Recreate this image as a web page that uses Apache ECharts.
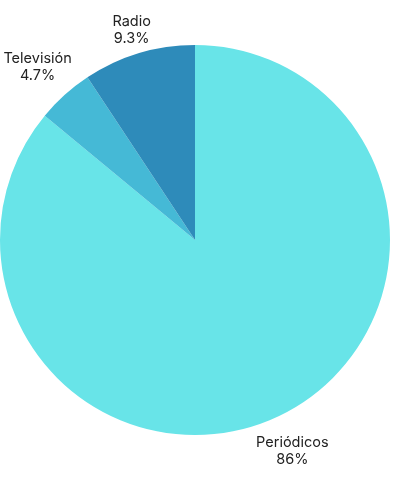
<!DOCTYPE html>
<html>
<head>
<meta charset="utf-8">
<script src="https://cdn.jsdelivr.net/npm/echarts@6/dist/echarts.min.js"></script>
<style>
html,body{margin:0;padding:0;background:#fff;}
#main{width:420px;height:478px;}
</style>
</head>
<body>
<div id="main"></div>
<script>
const categories = ['Periódicos', 'Televisión', 'Radio'];
const values = [86, 4.7, 9.3];
const colors = ['#68E4E8', '#45B9D6', '#2E8BBA'];
const lineLengths = [36, 39, 25];
const labelDx = [-6, 4, 5];
const labelDy = [2, 1, 1];

const chart = echarts.init(document.getElementById('main'), null, {renderer: 'canvas'});
chart.setOption({
  animation: false,
  series: [{
    type: 'pie',
    center: [195, 240],
    radius: [0, 195],
    startAngle: 90,
    clockwise: true,
    avoidLabelOverlap: false,
    data: categories.map((c, i) => ({
      name: c,
      value: values[i],
      itemStyle: {color: colors[i]},
      labelLine: {length: lineLengths[i], length2: 0}
    })),
    itemStyle: {borderWidth: 0},
    label: {
      show: true,
      position: 'outside',
      formatter: p => p.name + '\n' + p.value + '%',
      fontFamily: 'Inter',
      fontSize: 14.5,
      lineHeight: 17,
      color: '#222'
    },
    labelLine: {show: false},
    labelLayout: p => ({align: 'center', verticalAlign: 'middle', dx: labelDx[p.dataIndex], dy: labelDy[p.dataIndex]})
  }]
});
</script>
</body>
</html>
